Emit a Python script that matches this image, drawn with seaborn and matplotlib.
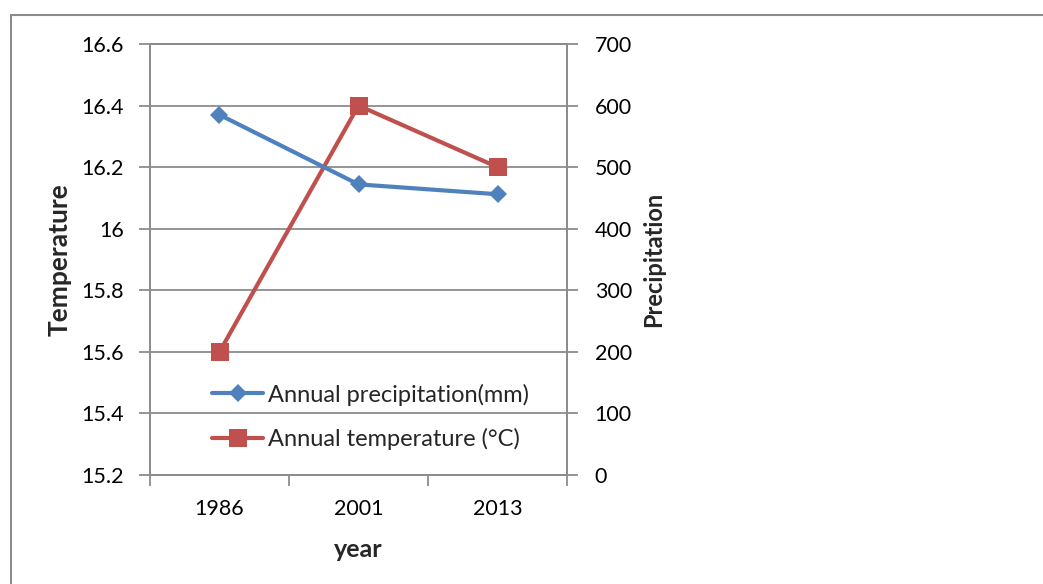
import matplotlib
matplotlib.use("Agg")
import matplotlib.pyplot as plt
import matplotlib.patches as mpatches
import seaborn as sns
import pandas as pd
import numpy as np

years = ["1986", "2001", "2013"]
temperature = [15.6, 16.4, 16.2]
precipitation = [585, 472, 456]
temp_ticks = [15.2, 15.4, 15.6, 15.8, 16.0, 16.2, 16.4, 16.6]
temp_tick_labels = ["15.2", "15.4", "15.6", "15.8", "16", "16.2", "16.4", "16.6"]
precip_ticks = [0, 100, 200, 300, 400, 500, 600, 700]

sns.set_theme(style="white")
plt.rcParams['font.family'] = ['Lato', 'DejaVu Sans']

BLUE = "#4F81BD"
RED = "#C0504D"
GRID = "#8C8C8C"
FS = 15.5
LEGFS = 17

df = pd.DataFrame({"pos": np.arange(len(years)), "year": years,
                   "temp": temperature, "precip": precipitation})

fig = plt.figure(figsize=(10.43, 5.84), dpi=100)
ax = fig.add_axes([150/1043, 1-475/584, 417/1043, 431/584])
ax2 = ax.twinx()

sns.lineplot(data=df, x="pos", y="temp", ax=ax, color=RED, marker="s",
             markersize=13, linewidth=3, markeredgewidth=0,
             label="Annual temperature (°C)", legend=False, zorder=3)
sns.lineplot(data=df, x="pos", y="precip", ax=ax2, color=BLUE, marker="D",
             markersize=9.5, linewidth=3, markeredgewidth=0,
             label="Annual precipitation(mm)", legend=False, zorder=3)

ax.set_xlim(-0.5, 2.5)
ax.set_ylim(15.2, 16.6)
ax2.set_ylim(0, 700)
ax.set_yticks(temp_ticks)
ax.set_yticklabels(temp_tick_labels)
ax2.set_yticks(precip_ticks)

ax.set_xticks([-0.5, 0.5, 1.5, 2.5])
ax.set_xticklabels([])
ax.set_xticks(df["pos"], minor=True)
ax.set_xticklabels(years, minor=True)
ax.tick_params(axis="x", which="major", length=8, width=1.3, color=GRID, direction="out", bottom=True)
ax.tick_params(axis="x", which="minor", length=0, pad=17, labelsize=FS, labelcolor="black")
ax.tick_params(axis="y", length=8, width=1.3, color=GRID, direction="out", left=True, pad=11,
               labelsize=FS, labelcolor="black")
ax2.tick_params(axis="y", length=8, width=1.3, color=GRID, direction="out", right=True, pad=12,
                labelsize=FS, labelcolor="black")

ax.grid(axis="y", color=GRID, linewidth=1.3)
ax.set_axisbelow(True)
ax2.grid(False)
for a in (ax, ax2):
    for s in a.spines.values():
        s.set_color(GRID)
        s.set_linewidth(1.3)

ax.set_xlabel("year", fontsize=18, fontweight="bold")
ax.set_ylabel("Temperature", fontsize=19, fontweight="bold")
ax2.set_ylabel("Precipitation", fontsize=17, fontweight="bold")
ax.xaxis.set_label_coords(0.5, -0.146)
ax.yaxis.set_label_coords(-0.188, 0.5)
ax2.yaxis.set_label_coords(1.18, 0.5)

h1, l1 = ax.get_legend_handles_labels()
h2, l2 = ax2.get_legend_handles_labels()
leg = ax2.legend(h2 + h1, l2 + l1, loc="center left", bbox_to_anchor=(0.149, 0.135),
                 frameon=False, fontsize=LEGFS, handlelength=2.16, handletextpad=0.21,
                 labelspacing=0.95, borderaxespad=0, borderpad=0)

frame = mpatches.Rectangle((11/1043, -0.1), 1.2, 1 - 15/584 + 0.1, transform=fig.transFigure,
                           fill=False, edgecolor="#8C8C8C", linewidth=1.5)
fig.patches.append(frame)

fig.savefig("out.png", dpi=100)
